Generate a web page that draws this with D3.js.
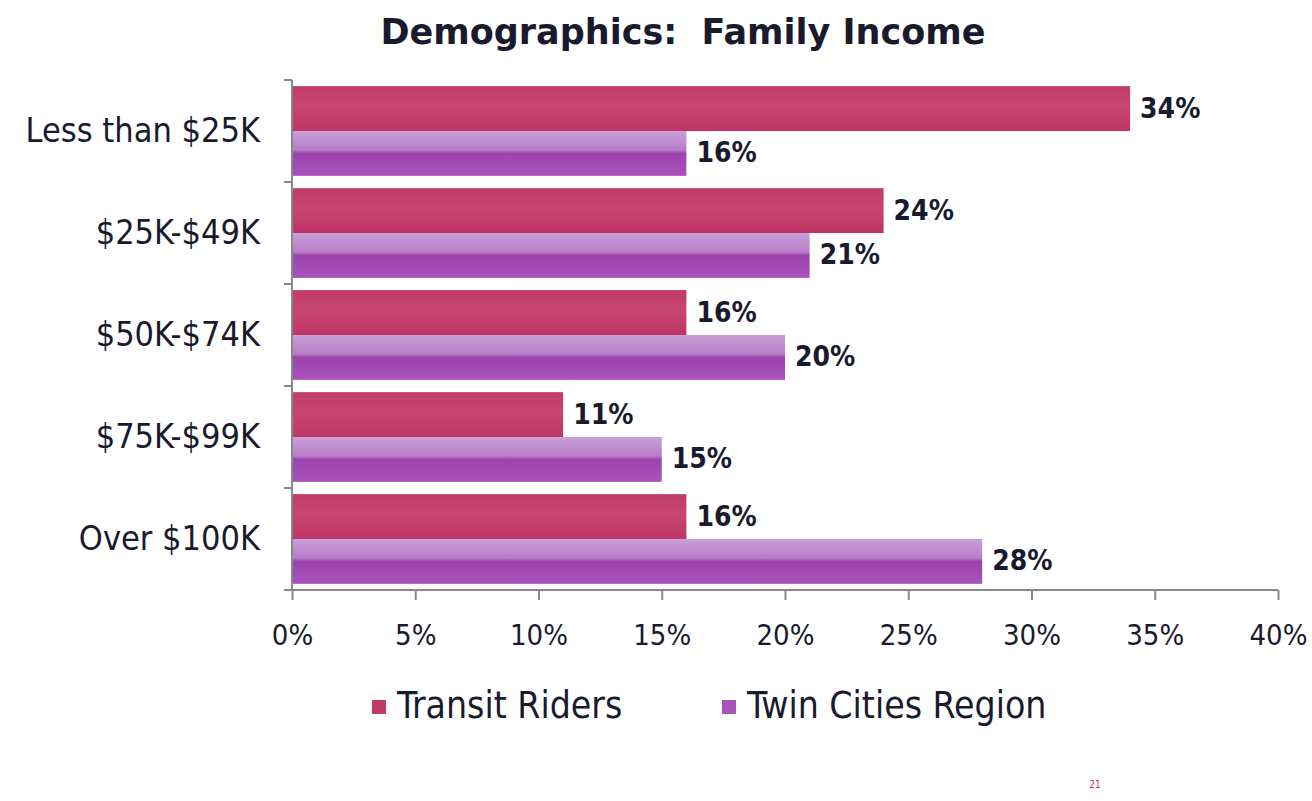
<!DOCTYPE html>
<html>
<head>
<meta charset="utf-8">
<script src="https://cdn.jsdelivr.net/npm/d3@7"></script>
<style>
  html, body { margin: 0; padding: 0; background: #fff; }
  svg { display: block; }
  text { font-family: "DejaVu Sans Condensed", "DejaVu Sans", Verdana, sans-serif; font-stretch: condensed; fill: #1a1a2e; }
  .title { font-family: "DejaVu Sans", Verdana, sans-serif; font-stretch: normal; white-space: pre; }
</style>
</head>
<body>
<svg id="chart" width="1312" height="801"></svg>
<script>
// Income brackets and shares (percent)
const categories = ["Less than $25K", "$25K-$49K", "$50K-$74K", "$75K-$99K", "Over $100K"];
const seriesNames = ["Transit Riders", "Twin Cities Region"];
const transitRiders = [34, 24, 16, 11, 16];
const twinCities = [16, 21, 20, 15, 28];
const xTicks = [0, 5, 10, 15, 20, 25, 30, 35, 40];

const svg = d3.select("#chart");
const W = 1312, H = 801;
const m = { left: 292, right: 34, top: 80, bottom: 211 };

const x = d3.scaleLinear().domain([0, 40]).range([m.left, W - m.right]);
const y = d3.scaleBand().domain(categories).range([m.top, H - m.bottom]).paddingInner(0.12).paddingOuter(0.06);
const yInner = d3.scaleBand().domain(seriesNames).range([0, y.bandwidth()]);

const defs = svg.append("defs");
const gTransit = defs.append("linearGradient").attr("id", "gTransit").attr("x1", 0).attr("y1", 0).attr("x2", 0).attr("y2", 1);
gTransit.append("stop").attr("offset", "0%").attr("stop-color", "#c23a6a");
gTransit.append("stop").attr("offset", "45%").attr("stop-color", "#c7476f");
gTransit.append("stop").attr("offset", "100%").attr("stop-color", "#bf3468");
const gTwin = defs.append("linearGradient").attr("id", "gTwin").attr("x1", 0).attr("y1", 0).attr("x2", 0).attr("y2", 1);
gTwin.append("stop").attr("offset", "0%").attr("stop-color", "#c8a0d8");
gTwin.append("stop").attr("offset", "42%").attr("stop-color", "#b87ec8");
gTwin.append("stop").attr("offset", "50%").attr("stop-color", "#9c44ac");
gTwin.append("stop").attr("offset", "100%").attr("stop-color", "#aa52bd");
const fills = { "Transit Riders": "url(#gTransit)", "Twin Cities Region": "url(#gTwin)" };
const legendFills = { "Transit Riders": "#c23a6a", "Twin Cities Region": "#a855b8" };

// Title
svg.append("text").attr("class", "title").attr("x", 683).attr("y", 44).attr("text-anchor", "middle")
  .style("font-size", "35px").style("font-weight", "bold").text("Demographics:  Family Income");

// Bars
const rows = categories.map((c, i) => ({ c, vals: [
  { s: seriesNames[0], v: transitRiders[i] },
  { s: seriesNames[1], v: twinCities[i] }
]}));
const grp = svg.append("g").selectAll("g").data(rows).join("g")
  .attr("transform", d => `translate(0,${y(d.c)})`);
grp.selectAll("rect").data(d => d.vals).join("rect")
  .attr("x", x(0)).attr("y", d => yInner(d.s))
  .attr("width", d => x(d.v) - x(0)).attr("height", yInner.bandwidth())
  .attr("fill", d => fills[d.s]);
grp.selectAll("text.val").data(d => d.vals).join("text").attr("class", "val")
  .attr("x", d => x(d.v) + 10).attr("y", d => yInner(d.s) + yInner.bandwidth() / 2 + 9)
  .style("font-size", "28px").style("font-weight", "bold").text(d => d.v + "%");

// Y axis: line with boundary ticks
const yAxisG = svg.append("g");
yAxisG.append("line").attr("x1", x(0)).attr("x2", x(0)).attr("y1", m.top).attr("y2", H - m.bottom)
  .attr("stroke", "#888").attr("stroke-width", 2);
const bounds = d3.range(categories.length + 1).map(i => m.top + i * (H - m.bottom - m.top) / categories.length);
yAxisG.selectAll("line.tk").data(bounds).join("line").attr("class", "tk")
  .attr("x1", x(0) - 8).attr("x2", x(0)).attr("y1", d => d).attr("y2", d => d)
  .attr("stroke", "#888").attr("stroke-width", 2);
yAxisG.selectAll("text").data(categories).join("text")
  .attr("x", 260).attr("y", d => y(d) + y.bandwidth() / 2 + 11).attr("text-anchor", "end")
  .style("font-size", "34px").text(d => d);

// X axis
const xAxis = svg.append("g").attr("transform", `translate(0,${H - m.bottom})`)
  .call(d3.axisBottom(x).tickValues(xTicks).tickFormat(d => d + "%").tickSize(10).tickPadding(24));
xAxis.select(".domain").attr("stroke", "#888").attr("stroke-width", 2).attr("d", `M${x(0) - 8},0H${x(40)}`);
xAxis.selectAll(".tick line").attr("stroke", "#888").attr("stroke-width", 2);
xAxis.selectAll(".tick text").style("font-size", "29px")
  .style("font-family", "'DejaVu Sans Condensed', 'DejaVu Sans', sans-serif").attr("fill", "#1a1a2e");

// Legend
const legend = svg.append("g");
const legendX = [372, 722];
seriesNames.forEach((s, i) => {
  legend.append("rect").attr("x", legendX[i]).attr("y", 700).attr("width", 14).attr("height", 14).attr("fill", legendFills[s]);
  legend.append("text").attr("x", legendX[i] + 25).attr("y", 718).style("font-size", "37px").text(s);
});

// Page number
svg.append("text").attr("x", 1095).attr("y", 788).attr("text-anchor", "middle")
  .style("font-size", "10px").style("fill", "#c0396a").text("21");
</script>
</body>
</html>
